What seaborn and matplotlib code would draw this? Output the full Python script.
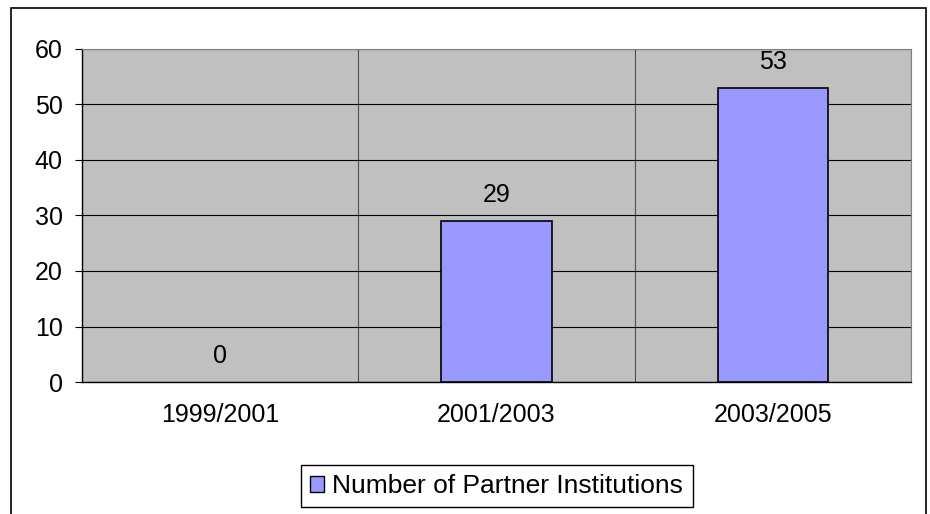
import numpy as np
import pandas as pd
import matplotlib
matplotlib.use("Agg")
import matplotlib.pyplot as plt
import seaborn as sns
from matplotlib.patches import Patch, Rectangle

periods = ["1999/2001", "2001/2003", "2003/2005"]
partners = [0, 29, 53]
series_name = "Number of Partner Institutions"

sns.set_theme(style="white")
plt.rcParams["font.family"] = ["Liberation Sans", "DejaVu Sans"]
plt.rcParams["text.color"] = "black"
plt.rcParams["xtick.color"] = "black"
plt.rcParams["ytick.color"] = "black"

df = pd.DataFrame({"Period": periods, "Count": partners})

fig = plt.figure(figsize=(9.3, 5.14), dpi=100)
ax = fig.add_axes([0.0882, 0.2568, 0.8914, 0.6479])
ax.set_facecolor("#C0C0C0")

sns.barplot(data=df, x="Period", y="Count", color="#9999FF", width=0.4,
            edgecolor="black", linewidth=1.2, saturation=1, ax=ax, zorder=3)
# excel draws nothing for an empty bar
for p, v in zip(ax.patches, partners):
    if v == 0:
        p.set_linewidth(0)
ax.bar_label(ax.containers[0], labels=[str(v) for v in partners],
             padding=10, fontsize=18)

ax.set_xlim(-0.5, 2.5)
ax.set_ylim(0, 60)
ax.set_yticks(np.arange(0, 61, 10))
ax.yaxis.grid(True, color="black", linewidth=0.8, zorder=0)
ax.set_axisbelow(True)
ax.set_xticks([-0.5, 0.5, 1.5, 2.5], minor=True)
ax.xaxis.grid(True, which="minor", color="#505050", linewidth=0.8)
ax.tick_params(axis="x", which="major", length=0, labelsize=18, pad=15)
ax.tick_params(axis="x", which="minor", length=6.5, width=0.8)
ax.tick_params(axis="y", length=5, width=0.8, labelsize=18, pad=9, left=True)
ax.set_xlabel("")
ax.set_ylabel("")
for side in ["left", "bottom"]:
    ax.spines[side].set_color("black")
    ax.spines[side].set_linewidth(1.0)
for side in ["top", "right"]:
    ax.spines[side].set_color("#808080")
    ax.spines[side].set_linewidth(0.8)

handle = Patch(facecolor="#9999FF", edgecolor="black", linewidth=1.0)
fig.legend([handle], [series_name], loc="center", bbox_to_anchor=(0.534, 0.054),
           frameon=True, fancybox=False, edgecolor="black", fontsize=19,
           handlelength=0.55, handleheight=0.55, handletextpad=0.3,
           borderpad=0.35, borderaxespad=0, framealpha=1)

border = Rectangle((11 / 930, -0.05), (926 - 11) / 930, 1.05 - 8 / 514,
                   transform=fig.transFigure, fill=False, edgecolor="black",
                   linewidth=1.2)
fig.patches.append(border)

fig.savefig("out.png", dpi=100)
